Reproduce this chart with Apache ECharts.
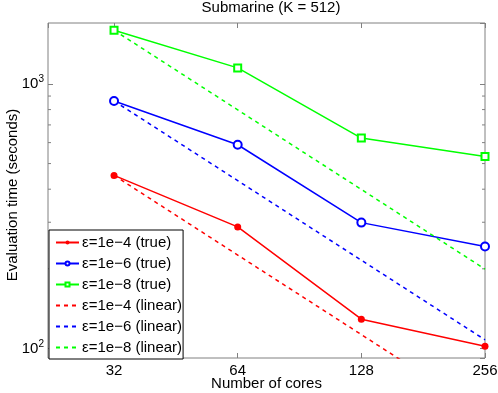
<!DOCTYPE html>
<html><head><meta charset="utf-8">
<script src="https://cdn.jsdelivr.net/npm/echarts@6/dist/echarts.min.js"></script>
<style>html,body{margin:0;padding:0;background:#fff}#c{width:498px;height:393px}</style>
</head><body><div id="c"></div>
<script>
const cores = [32, 64, 128, 256];
const true4 = [451, 288, 129, 102];
const true6 = [862, 589, 299, 243];
const true8 = [1596, 1150, 624, 532];
const lin4 = [451, 225.5, 112.8, 56.4];
const lin6 = [862, 431, 215.5, 107.8];
const lin8 = [1596, 798, 399, 199.5];
const xMin = 22.1, xMax = 256, yMin = 92, yMax = 1700;
const yMinor = [200, 300, 400, 500, 600, 700, 800, 900];
const names = ['ε=1e−4 (true)','ε=1e−6 (true)','ε=1e−8 (true)','ε=1e−4 (linear)','ε=1e−6 (linear)','ε=1e−8 (linear)'];
const RED='#ff0000', BLUE='#0000ff', GREEN='#00ff00';
const FONT = 'Liberation Sans, Arial, sans-serif';
const FS = 15;
const frame = '#808080';

function pair(arr){ return cores.map((c,i)=>[c, arr[i]]); }

const chart = echarts.init(document.getElementById('c'), null, {renderer:'canvas'});
const axisLbl = {fontFamily: FONT, fontSize: FS, color:'#000'};
function yFmt(v){
  const e = Math.round(Math.log10(v));
  if (Math.abs(Math.log10(v) - e) > 1e-6) return '';
  return '{b|10}{s|' + e + '}';
}
function xFmt(v){
  return cores.some(c => Math.abs(c - v) < 1e-6) ? String(Math.round(v)) : '';
}
const legendData = names.map((n, i) => i < 3 ? {name: n} : {name: n, itemStyle: {opacity: 0}});
const option = {
  animation: false,
  backgroundColor: '#fff',
  title: {
    text: 'Submarine (K = 512)', left: 266, top: -5, textAlign: 'center',
    textStyle: {fontFamily: FONT, fontSize: FS, fontWeight: 'normal', color: '#000'}
  },
  grid: {left: 48, right: 13, top: 23, bottom: 35, containLabel: false, outerBoundsMode: 'none',
    show: true, borderColor: frame, borderWidth: 1, backgroundColor: 'transparent'},
  xAxis: [{
    type: 'log', logBase: 2, min: xMin, max: xMax,
    name: 'Number of cores', nameLocation: 'middle', nameGap: 18, nameMoveOverlap: false,
    nameTextStyle: {fontFamily: FONT, fontSize: FS, color: '#000'},
    axisLine: {show: false},
    axisTick: {show: true, inside: true, length: 5, lineStyle: {color: frame}},
    axisLabel: Object.assign({formatter: xFmt, showMinLabel: false, margin: 5}, axisLbl),
    splitLine: {show: false}, minorTick: {show: false}
  },{
    type: 'log', logBase: 2, min: xMin, max: xMax, position: 'top',
    axisLine: {show: false},
    axisTick: {show: true, inside: true, length: 5, lineStyle: {color: frame}},
    axisLabel: {show: false}, splitLine: {show: false}
  }],
  yAxis: [{
    type: 'log', logBase: 10, min: yMin, max: yMax,
    name: 'Evaluation time (seconds)', nameLocation: 'middle', nameGap: 28, nameMoveOverlap: false,
    nameTextStyle: {fontFamily: FONT, fontSize: FS, color: '#000', padding: [0, 9, 0, 0]},
    axisLine: {show: false},
    axisTick: {show: true, inside: true, length: 5, lineStyle: {color: frame}},
    axisLabel: {formatter: yFmt, showMinLabel: false, showMaxLabel: false, margin: 4,
      rich: {b: {fontFamily: FONT, fontSize: FS, color: '#000'}, s: {fontFamily: FONT, fontSize: 10, color: '#000', verticalAlign: 'top', padding: [0,0,9,0]}}},
    splitLine: {show: false}
  },{
    type: 'log', logBase: 10, min: yMin, max: yMax, position: 'right',
    axisLine: {show: false},
    axisTick: {show: true, inside: true, length: 5, lineStyle: {color: frame}},
    axisLabel: {show: false}, splitLine: {show: false}
  }],
  legend: {
    data: legendData, orient: 'vertical', left: 49, top: 230,
    padding: [5, 1, 4, 6], itemWidth: 23, itemHeight: 5, itemGap: 6,
    backgroundColor: '#fff', borderColor: '#000', borderWidth: 1, borderRadius: 0,
    textStyle: {fontFamily: FONT, fontSize: FS, lineHeight: 14, color: '#000', padding: [0,0,0,-2]}
  },
  series: [
    {name: names[0], type: 'line', data: pair(true4), color: RED, symbol: 'circle', symbolSize: 7,
      lineStyle: {width: 1.5, color: RED}, itemStyle: {color: RED}},
    {name: names[1], type: 'line', data: pair(true6), color: BLUE, symbol: 'emptyCircle', symbolSize: 8,
      lineStyle: {width: 1.5, color: BLUE}, itemStyle: {color: BLUE, borderWidth: 1.5}},
    {name: names[2], type: 'line', data: pair(true8), color: GREEN, symbol: 'emptyRect', symbolSize: 7,
      lineStyle: {width: 1.5, color: GREEN}, itemStyle: {color: GREEN, borderWidth: 1.5}},
    {name: names[3], type: 'line', data: pair(lin4), color: RED, symbol: 'none',
      lineStyle: {width: 1.5, color: RED, type: [4, 4]}},
    {name: names[4], type: 'line', data: pair(lin6), color: BLUE, symbol: 'none',
      lineStyle: {width: 1.5, color: BLUE, type: [4, 4]}},
    {name: names[5], type: 'line', data: pair(lin8), color: GREEN, symbol: 'none',
      lineStyle: {width: 1.5, color: GREEN, type: [4, 4]}},
    {type: 'custom', name: 'minor', silent: true, z: 1,
      data: yMinor.map(v => [cores[0], v]),
      renderItem: function(params, api){
        const p = api.coord([api.value(0), api.value(1)]);
        const cs = params.coordSys;
        const l = cs.x, r = cs.x + cs.width;
        const st = {stroke: frame, lineWidth: 1};
        return {type: 'group', children: [
          {type: 'line', shape: {x1: l, y1: p[1], x2: l + 3, y2: p[1]}, style: st},
          {type: 'line', shape: {x1: r - 3, y1: p[1], x2: r, y2: p[1]}, style: st}
        ]};
      }}
  ]
};
chart.setOption(option);
</script></body></html>
